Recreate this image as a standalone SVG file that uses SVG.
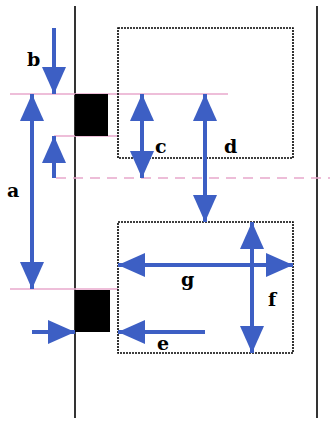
<svg xmlns="http://www.w3.org/2000/svg" width="330" height="421" viewBox="0 0 330 421">
<style>
.wall{stroke:#000;stroke-width:1.6;fill:none}
.box{stroke:#000;stroke-width:1.6;fill:none;stroke-dasharray:2,1}
.pink{stroke:#e8a8cc;stroke-width:1.4;fill:none}
.pinkd{stroke:#e8a8cc;stroke-width:1.4;fill:none;stroke-dasharray:10,7}
.arr{stroke:#3d5fc4;stroke-width:4;fill:none}
.blk{fill:#000}
.lbl{font-family:"DejaVu Serif","Liberation Serif",serif;font-weight:bold;font-size:19px;fill:#000}
</style>
<defs>
<marker id="ah" viewBox="0 0 27 24" markerUnits="userSpaceOnUse" markerWidth="27" markerHeight="24" refX="27" refY="12" orient="auto-start-reverse">
<path d="M0,0 L27,12 L0,24 Z" fill="#3d5fc4"/>
</marker>
</defs>
<rect width="330" height="421" fill="#fff"/>
<g id="walls">
<line class="wall" x1="75" y1="6" x2="75" y2="418"/>
<line class="wall" x1="317" y1="6" x2="317" y2="418"/>
</g>
<g id="guides">
<line class="pink" x1="10" y1="94" x2="228" y2="94"/>
<line class="pink" x1="54" y1="136" x2="118" y2="136"/>
<line class="pinkd" x1="56" y1="178" x2="330" y2="178"/>
<line class="pink" x1="10" y1="289" x2="118" y2="289"/>
</g>
<g id="box-top"><rect class="box" x="118" y="28" width="175" height="130"/></g>
<g id="box-bottom"><rect class="box" x="118" y="222" width="175" height="131"/></g>
<g id="block-top"><rect class="blk" x="75" y="94" width="33" height="42"/></g>
<g id="block-bottom"><rect class="blk" x="75" y="290" width="35" height="42"/></g>
<g id="connectors">
<line class="arr" x1="54" y1="28" x2="54" y2="94" marker-end="url(#ah)"/>
<line class="arr" x1="32" y1="94" x2="32" y2="289" marker-start="url(#ah)" marker-end="url(#ah)"/>
<line class="arr" x1="54" y1="178" x2="54" y2="136" marker-end="url(#ah)"/>
<line class="arr" x1="142" y1="94" x2="142" y2="178" marker-start="url(#ah)" marker-end="url(#ah)"/>
<line class="arr" x1="205" y1="94" x2="205" y2="222" marker-start="url(#ah)" marker-end="url(#ah)"/>
<line class="arr" x1="118" y1="265" x2="293" y2="265" marker-start="url(#ah)" marker-end="url(#ah)"/>
<line class="arr" x1="252" y1="222" x2="252" y2="353" marker-start="url(#ah)" marker-end="url(#ah)"/>
<line class="arr" x1="205" y1="332" x2="118" y2="332" marker-end="url(#ah)"/>
<line class="arr" x1="32" y1="332" x2="75" y2="332" marker-end="url(#ah)"/>
</g>
<g id="labels">
<text class="lbl" x="27" y="66">b</text>
<text class="lbl" x="7" y="197">a</text>
<text class="lbl" x="155" y="153">c</text>
<text class="lbl" x="224" y="153">d</text>
<text class="lbl" x="181" y="286">g</text>
<text class="lbl" x="268" y="306">f</text>
<text class="lbl" x="157" y="350">e</text>
</g>
</svg>
